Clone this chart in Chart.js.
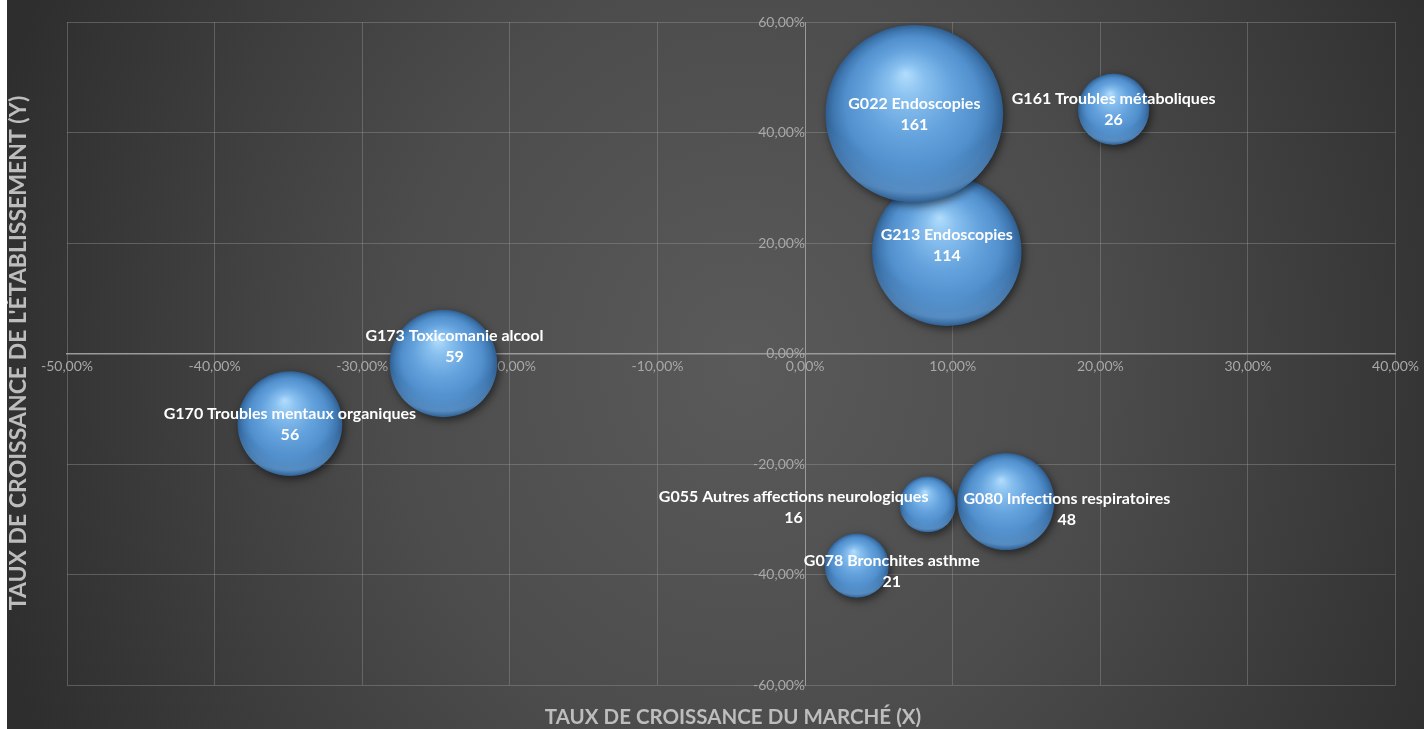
<!DOCTYPE html>
<html>
<head>
<meta charset="utf-8">
<script src="https://cdn.jsdelivr.net/npm/chart.js@4.4.1/dist/chart.umd.min.js"></script>
<style>
html, body { margin: 0; padding: 0; background: #fff; width: 1424px; height: 729px; overflow: hidden; }
#wrap {
  position: absolute; left: 7px; top: 0; width: 1417px; height: 729px;
  background: radial-gradient(ellipse 55% 120% at 52% 50%, #5a5a5a 0%, #4c4c4c 45%, #2e2e2e 100%);
}
</style>
</head>
<body>
<div id="wrap"><canvas id="matrix" width="1417" height="729"></canvas></div>
<script>
// groupes (GHM) - ordre de dessin : G022 passe devant G213
const groups = [
  'G170 Troubles mentaux organiques',
  'G173 Toxicomanie alcool',
  'G213 Endoscopies',
  'G022 Endoscopies',
  'G161 Troubles métaboliques',
  'G055 Autres affections neurologiques',
  'G080 Infections respiratoires',
  'G078 Bronchites asthme'
];
const marketGrowth = [-34.9, -24.5, 9.6, 7.4, 20.9, 8.3, 13.6, 3.5];      // X, en %
const companyGrowth = [-12.7, -1.8, 18.5, 43.4, 44.2, -27.3, -26.8, -38.4]; // Y, en %
const volumes = [56, 59, 114, 161, 26, 16, 48, 21];

const xMin = -50, xMax = 40, xStep = 10;
const yMin = -60, yMax = 60, yStep = 20;

// décalage des étiquettes (px) par rapport au centre de la bulle
const labelShift = [[0, 0], [11, -18], [0, -6], [0, 0], [0, 0], [-134, 3], [61, 7], [35, 5]];

const bubbleScale = 7.0; // rayon = sqrt(volume) * bubbleScale

const points = groups.map((g, i) => ({
  x: marketGrowth[i],
  y: companyGrowth[i],
  r: Math.sqrt(volumes[i]) * bubbleScale
}));

function pct(v) {
  return v.toFixed(2).replace('.', ',') + '%';
}

function sphereFill(ctx) {
  const chart = ctx.chart;
  if (ctx.type !== 'data' || !chart.scales.x || !chart.chartArea) return '#5b9bd5';
  const p = ctx.raw;
  const cx = chart.scales.x.getPixelForValue(p.x);
  const cy = chart.scales.y.getPixelForValue(p.y);
  const r = p.r;
  if (!isFinite(cx) || !isFinite(cy)) return '#5b9bd5';
  const g = chart.ctx.createRadialGradient(cx - r * 0.1, cy - r * 0.45, 0, cx, cy, r);
  g.addColorStop(0, '#b2ddfc');
  g.addColorStop(0.2, '#88c0ef');
  g.addColorStop(0.5, '#64a2dd');
  g.addColorStop(0.75, '#5190cd');
  g.addColorStop(0.9, '#3f77b0');
  g.addColorStop(1, '#2f5e90');
  return g;
}

const shadow = {
  id: 'shadow',
  beforeDatasetDraw(chart) {
    const c = chart.ctx;
    c.save();
    c.shadowColor = 'rgba(0,0,0,0.55)';
    c.shadowBlur = 9;
    c.shadowOffsetX = 2;
    c.shadowOffsetY = 3;
  },
  afterDatasetDraw(chart) {
    const c = chart.ctx;
    c.restore();
    // reflet clair en bas de chaque bulle
    chart.getDatasetMeta(0).data.forEach(pt => {
      const r = pt.options.radius;
      c.save();
      c.beginPath();
      c.arc(pt.x, pt.y, r, 0, Math.PI * 2);
      c.clip();
      const g = c.createRadialGradient(pt.x, pt.y - r * 0.6, r * 1.2, pt.x, pt.y - r * 0.6, r * 1.6);
      g.addColorStop(0, 'rgba(140,195,245,0)');
      g.addColorStop(0.72, 'rgba(140,195,245,0.32)');
      g.addColorStop(1, 'rgba(140,195,245,0)');
      c.fillStyle = g;
      c.fillRect(pt.x - r, pt.y - r, r * 2, r * 2);
      c.restore();
    });
  }
};

const bubbleLabels = {
  id: 'bubbleLabels',
  afterDatasetsDraw(chart) {
    const c = chart.ctx;
    const meta = chart.getDatasetMeta(0);
    c.save();
    c.font = 'bold 16px Lato';
    c.fillStyle = '#ffffff';
    c.textAlign = 'center';
    c.textBaseline = 'middle';
    meta.data.forEach((pt, i) => {
      const x = pt.x + labelShift[i][0];
      const y = pt.y + labelShift[i][1];
      c.fillText(groups[i], x, y - 10);
      c.fillText(String(volumes[i]), x, y + 11);
    });
    c.restore();
  }
};

const axisTitles = {
  id: 'axisTitles',
  afterDraw(chart) {
    const c = chart.ctx;
    c.save();
    c.fillStyle = '#bdbdbd';
    c.textAlign = 'center';
    c.textBaseline = 'middle';
    c.font = 'bold 20.5px Lato';
    c.fillText('TAUX DE CROISSANCE DU MARCHÉ (X)', 726, 717);
    c.font = 'bold 23px Lato';
    c.translate(12, 353);
    c.rotate(-Math.PI / 2);
    c.fillText("TAUX DE CROISSANCE DE L'ÉTABLISSEMENT (Y)", 0, 0);
    c.restore();
  }
};

function gridColor(ctx) {
  return ctx.tick && ctx.tick.value === 0 ? 'rgba(0,0,0,0)' : 'rgba(150,150,150,0.42)';
}

const chart = new Chart(document.getElementById('matrix'), {
  type: 'bubble',
  data: {
    datasets: [{
      data: points,
      backgroundColor: sphereFill,
      borderWidth: 0,
      hoverBorderWidth: 0,
      clip: false
    }]
  },
  options: {
    responsive: false,
    animation: false,
    layout: { autoPadding: false, padding: { left: 60, right: 24, top: 22, bottom: 44 } },
    plugins: { legend: { display: false }, tooltip: { enabled: false } },
    scales: {
      x: {
        type: 'linear',
        min: xMin, max: xMax,
        position: { y: 0 },
        grid: { color: gridColor, drawTicks: false },
        border: { color: '#9a9a9a', width: 1.5 },
        ticks: {
          stepSize: xStep,
          padding: 5,
          color: '#a8a8a8',
          font: { family: 'Lato', size: 14 },
          callback: v => pct(v)
        }
      },
      y: {
        type: 'linear',
        min: yMin, max: yMax,
        position: { x: 0 },
        grid: { color: gridColor, drawTicks: false },
        border: { color: '#9a9a9a', width: 1 },
        ticks: {
          stepSize: yStep,
          padding: 10,
          color: '#a8a8a8',
          font: { family: 'Lato', size: 14 },
          callback: v => pct(v)
        }
      }
    }
  },
  plugins: [shadow, bubbleLabels, axisTitles]
});
// second passage : les échelles sont placées, les dégradés peuvent être calculés
chart.update();
</script>
